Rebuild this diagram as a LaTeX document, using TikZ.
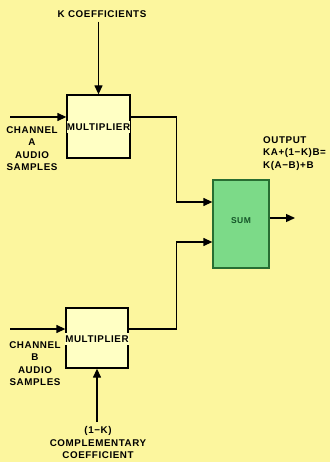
\documentclass[tikz,border=0pt]{standalone}
\usepackage{fontspec}
\newfontfamily\diagfont{Liberation Sans Bold}[LetterSpace=6]
\usetikzlibrary{arrows.meta}

\definecolor{pageyellow}{RGB}{252,246,158}
\definecolor{boxyellow}{RGB}{255,255,196}
\definecolor{sumgreen}{RGB}{124,218,136}
\definecolor{sumedge}{RGB}{40,110,50}
\definecolor{sumtext}{RGB}{20,85,40}

\begin{document}
\begin{tikzpicture}[x=1pt, y=-1pt,
  font=\diagfont\fontsize{9.8}{12.5}\selectfont,
  sig/.style={line width=1.3pt, -{Triangle[length=9pt,width=8pt]}},
  mult/.style={draw, line width=1.3pt, fill=boxyellow},
  lbl/.style={align=center, inner sep=0pt}]
\fill[pageyellow] (0,0) rectangle (330,462);
\useasboundingbox (0,0) rectangle (330,462);
\node[mult, minimum width=63pt, minimum height=63pt] (multA) at (98.5,126.5) {};
\node[fill=boxyellow, inner xsep=0pt, inner ysep=3pt] (multAtext) at (98.5,127) {MULTIPLIER};
\node[mult, minimum width=62pt, minimum height=60pt] (multB) at (97,338) {};
\node[fill=boxyellow, inner xsep=0pt, inner ysep=3pt] (multBtext) at (97,339) {MULTIPLIER};
\node[draw=sumedge, line width=1.3pt, fill=sumgreen, minimum width=56pt, minimum height=88pt] (sum) at (241,224) {};
\node[text=sumtext, font=\diagfont\fontsize{8.5}{9}\selectfont] (sumtext) at (241,221) {SUM};
\node[lbl] (kcoef) at (102,14) {K COEFFICIENTS};
\node[lbl] (chanA) at (32,148.5) {CHANNEL\\A\\AUDIO\\SAMPLES};
\node[lbl] (chanB) at (35,363.5) {CHANNEL\\B\\AUDIO\\SAMPLES};
\node[lbl] (compl) at (98,442.5) {(1−K)\\COMPLEMENTARY\\COEFFICIENT};
\node[align=left, anchor=west, inner sep=0pt] (output) at (263,153.5) {OUTPUT\\KA+(1−K)B=\\K(A−B)+B};
\coordinate (inA) at (10,117);
\coordinate (inB) at (10,329);
\coordinate (out) at (295,218);
\draw[sig, shorten <=4pt] (kcoef.south -| multA) -- (multA.north);
\draw[sig] (inA) -- (multA.west |- inA);
\draw[sig] (multA.east |- inA) -- ++(46,0) |- ([yshift=22pt]sum.west);
\draw[sig] (inB) -- (multB.west |- inB);
\draw[sig] (multB.east |- inB) -- ++(48,0) |- ([yshift=-18pt]sum.west);
\draw[sig, shorten <=4pt] (compl.north -| multB) -- (multB.south);
\draw[sig] (sum.east |- out) -- (out);
\end{tikzpicture}
\end{document}
